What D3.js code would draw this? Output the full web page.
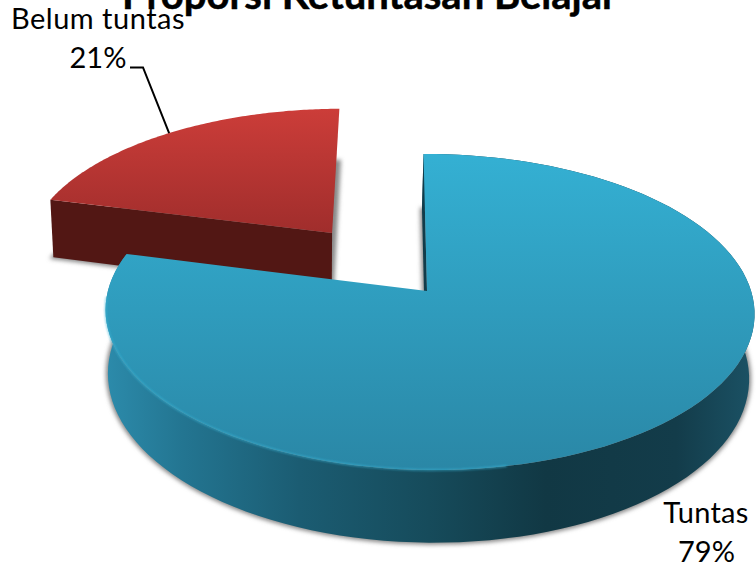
<!DOCTYPE html>
<html><head><meta charset="utf-8">
<script src="https://cdn.jsdelivr.net/npm/d3@7/dist/d3.min.js"></script>
<style>html,body{margin:0;padding:0;background:#fff;overflow:hidden}svg{display:block}text{font-family:Lato,sans-serif;fill:#000}</style>
</head><body><svg id="c" width="756" height="568"></svg>
<script>
const chartTitle = "Proporsi Ketuntasan Belajar";
const categories = ["Tuntas", "Belum tuntas"];
const values = [79, 21];
const percentLabels = ["79%", "21%"];
const explode = [0, 0.5];

const svg = d3.select("#c");
const defs = svg.append("defs");
// projection of the unit disc to the screen (perspective)
const ox = 427, oy = 291, rx = 321.6, ry = 155.2, k = 0.133, m = 0.0077, shear = 0.0255, depth = 63, shrink = 0.012, drift = -1.5;
function project(u, v, z) {
  const w = 1 - k * v - m * u;
  const Y = ry * v / w;
  const X = rx * u / w * (1 - shrink * z);
  return [ox + X + shear * Y + drift * z, oy + Y + depth * z / w];
}
const pie = d3.pie().sort(null).value(d => d).startAngle(0).endAngle(2 * Math.PI);
const arcs = pie(values);
const line = d3.line();

function geom(a, i) {
  const mid = (a.startAngle + a.endAngle) / 2;
  const e = explode[i];
  const ex = e * Math.sin(mid), ey = -e * Math.cos(mid);
  const steps = d3.range(0, 121).map(t => a.startAngle + (a.endAngle - a.startAngle) * t / 120);
  const rim = z => steps.map(t => project(Math.sin(t) + ex, -Math.cos(t) + ey, z));
  const apex = z => project(ex, ey, z);
  const at = (t, z) => project(Math.sin(t) + ex, -Math.cos(t) + ey, z);
  return {mid, steps, rim, apex, at};
}
const closed = pts => line(pts) + "Z";

function grad(id, x1, y1, x2, y2, stops) {
  const g = defs.append("linearGradient").attr("id", id).attr("gradientUnits", "userSpaceOnUse")
    .attr("x1", x1).attr("y1", y1).attr("x2", x2).attr("y2", y2);
  stops.forEach(s => g.append("stop").attr("offset", s[0]).attr("stop-color", s[1]));
}
grad("tealTop", 0, 154, 0, 470, [[0, "#34b0d3"], [1, "#2a87a6"]]);
grad("tealSide", 105, 0, 754, 0, [[0, "#2c8bab"], [0.12, "#237591"], [0.3, "#1b5c72"], [0.5, "#164b5b"], [0.68, "#113844"], [0.88, "#133c4a"], [1, "#1b5265"]]);
grad("redTop", 0, 108, 0, 250, [[0, "#cc3d39"], [1, "#9a2b2a"]]);
defs.append("filter").attr("id", "sh").attr("x", "-10%").attr("y", "-10%").attr("width", "120%").attr("height", "120%")
  .append("feGaussianBlur").attr("stdDeviation", 2.2);
defs.append("filter").attr("id", "soft").append("feGaussianBlur").attr("stdDeviation", 0.8);

const gB = geom(arcs[1], 1), gT = geom(arcs[0], 0);

svg.append("text").attr("x", 369.5).attr("y", 8.5).attr("text-anchor", "middle")
  .attr("font-size", 40).attr("font-weight", 700).attr("stroke", "#000").attr("stroke-width", 0.5).text(chartTitle);

function sliceShadow(g) {
  svg.append("path").attr("d", closed(g.rim(1).concat([g.apex(1)])))
    .attr("fill", "#888").attr("stroke", "#888").attr("stroke-width", 4)
    .attr("filter", "url(#sh)");
}
// red slice: only its front cut wall shows
sliceShadow(gB);
svg.append("path").attr("d", closed([gB.at(arcs[1].startAngle, 0), gB.apex(0), gB.apex(1), gB.at(arcs[1].startAngle, 1)]))
  .attr("fill", "#521714");
svg.append("path").attr("d", closed(gB.rim(0).concat([gB.apex(0)]))).attr("fill", "url(#redTop)");

// teal slice
sliceShadow(gT);
svg.append("path").attr("d", closed(gT.rim(0).concat(gT.rim(1).reverse()))).attr("fill", "url(#tealSide)");
svg.append("path").attr("d", closed([gT.at(0, 0), gT.apex(0), gT.apex(1), gT.at(0, 1)])).attr("fill", "#123c4a");
svg.append("path").attr("d", closed(gT.rim(0).concat([gT.apex(0)]))).attr("fill", "url(#tealTop)");
// lit rim of the front edge, only towards the lower left
const rim0 = gT.rim(0);
const rimFront = gT.steps.map((t, i) => [t, rim0[i]]).filter(d => d[0] > 2.9 && d[0] < 4.7).map(d => d[1]);
svg.append("path").attr("d", line(rimFront)).attr("fill", "none").attr("stroke", "#3bb6d8")
  .attr("stroke-width", 1.4).attr("opacity", 0.8).attr("filter", "url(#soft)");

// leader line for the small slice
const end = gB.at(gB.mid, 0);
svg.append("path").attr("d", line([[130, 67.5], [143, 67.5], end])).attr("fill", "none")
  .attr("stroke", "#000").attr("stroke-width", 2);

// labels
const fs = 29;
svg.append("text").attr("x", 98).attr("y", 29).attr("text-anchor", "middle").attr("font-size", fs)
  .attr("letter-spacing", 0.5).text(categories[1]);
svg.append("text").attr("x", 98).attr("y", 68).attr("text-anchor", "middle").attr("font-size", fs).text(percentLabels[1]);
svg.append("text").attr("x", 706).attr("y", 523).attr("text-anchor", "middle").attr("font-size", fs).attr("letter-spacing", 0.3).text(categories[0]);
svg.append("text").attr("x", 706.5).attr("y", 562).attr("text-anchor", "middle").attr("font-size", fs).text(percentLabels[0]);
</script></body></html>
